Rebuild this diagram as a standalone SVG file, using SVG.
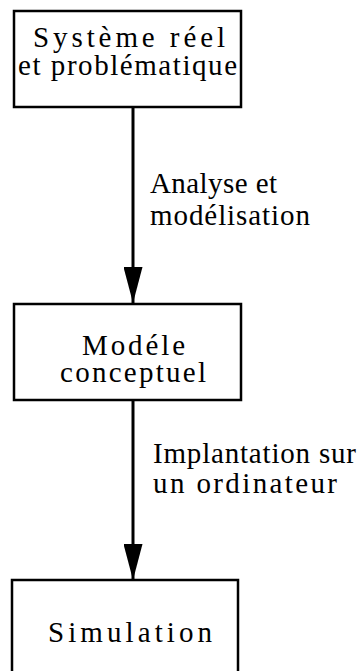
<svg xmlns="http://www.w3.org/2000/svg" width="358" height="671" viewBox="0 0 358 671">
<style>
.box{fill:#fff;stroke:#000;stroke-width:2.5}
.t{font-family:"Liberation Serif","Times New Roman",serif;font-size:29px;fill:#000}
.edge{stroke:#000;stroke-width:3;fill:none}
</style>
<defs>
<marker id="arr" viewBox="0 0 36 19" refX="36" refY="9.5" markerWidth="36" markerHeight="19" markerUnits="userSpaceOnUse" orient="auto">
<path d="M0,0 L36,9.5 L0,19 z" fill="#000"/>
</marker>
</defs>
<rect width="358" height="671" fill="#fff"/>
<g id="connectors">
<line class="edge" x1="133" y1="107" x2="133" y2="303" marker-end="url(#arr)"/>
<line class="edge" x1="133" y1="400" x2="133" y2="580" marker-end="url(#arr)"/>
<text class="t" x="150" y="193" textLength="127" lengthAdjust="spacing">Analyse et</text>
<text class="t" x="150" y="225" textLength="160" lengthAdjust="spacing">modélisation</text>
<text class="t" x="153" y="463" textLength="203" lengthAdjust="spacing">Implantation sur</text>
<text class="t" x="153" y="493" textLength="184" lengthAdjust="spacing">un ordinateur</text>
</g>
<g id="n1">
<rect class="box" x="14" y="11" width="227" height="96"/>
<text class="t" x="33" y="47" textLength="192" lengthAdjust="spacing">Système réel</text>
<text class="t" x="18" y="75" textLength="219" lengthAdjust="spacing">et problématique</text>
</g>
<g id="n2">
<rect class="box" x="14" y="304" width="227" height="96"/>
<text class="t" x="82" y="355" textLength="103" lengthAdjust="spacing">Modéle</text>
<text class="t" x="60" y="382" textLength="146" lengthAdjust="spacing">conceptuel</text>
</g>
<g id="n3">
<rect class="box" x="12" y="580" width="226" height="110"/>
<text class="t" x="48" y="642" textLength="164" lengthAdjust="spacing">Simulation</text>
</g>
</svg>
